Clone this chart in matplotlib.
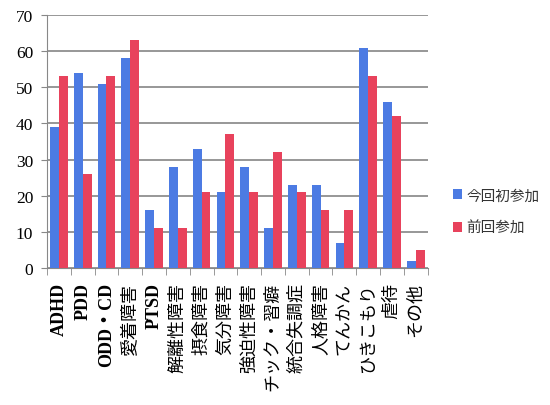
import matplotlib
matplotlib.use("Agg")
import matplotlib.pyplot as plt
import numpy as np

categories = ["ADHD", "PDD", "ODD・CD", "愛着障害", "PTSD", "解離性障害", "摂食障害",
              "気分障害", "強迫性障害", "チック・習癖", "統合失調症", "人格障害",
              "てんかん", "ひきこもり", "虐待", "その他"]
first_time = [39, 54, 51, 58, 16, 28, 33, 21, 28, 11, 23, 23, 7, 61, 46, 2]
returning = [53, 26, 53, 63, 11, 11, 21, 37, 21, 32, 21, 16, 16, 53, 42, 5]
series_names = ["今回初参加", "前回参加"]
y_ticks = [0, 10, 20, 30, 40, 50, 60, 70]

label_fonts = ["Liberation Serif", "Noto Sans CJK JP", "DejaVu Sans"]

fig = plt.figure(figsize=(5.5, 4.06), dpi=100)
ax = fig.add_axes([0.0855, 0.3374, 0.692, 0.6232])

x = np.arange(len(categories))
w = 0.37
ax.bar(x - w / 2, first_time, width=w, color="#4c7be3", label=series_names[0], zorder=3)
ax.bar(x + w / 2, returning, width=w, color="#e8425c", label=series_names[1], zorder=3)

ax.set_xlim(-0.5, len(categories) - 0.5)
ax.set_ylim(0, 70)
ax.set_yticks(y_ticks)
ax.set_yticklabels([str(v) for v in y_ticks], family=["Liberation Serif"], fontsize=12.5)
ax.grid(axis="y", color="#7a7a7a", linewidth=1.1, zorder=0)

# category labels sit between the boundary ticks
ax.set_xticks(x)
ax.set_xticklabels(categories, rotation=90, family=label_fonts, fontsize=13)
for lbl in ax.get_xticklabels():
    if lbl.get_text().isascii() or "CD" in lbl.get_text():
        lbl.set_fontweight("bold")
ax.tick_params(axis="x", length=0, pad=10)
ax.set_xticks(np.arange(-0.5, len(categories), 1.0), minor=True)
ax.tick_params(axis="x", which="minor", length=5, color="#888888")
ax.tick_params(axis="y", length=4, color="#888888", pad=6)

for side in ("top", "right"):
    ax.spines[side].set_visible(False)
for side in ("left", "bottom"):
    ax.spines[side].set_color("#888888")

leg = fig.legend(loc="upper left", bbox_to_anchor=(0.80, 0.565), frameon=False,
                 handlelength=0.6, handleheight=0.6, handletextpad=0.3,
                 labelspacing=1.3, prop={"family": label_fonts, "size": 10.5})
for t in leg.get_texts():
    t.set_color("#333333")

fig.savefig("out.png", dpi=100)
